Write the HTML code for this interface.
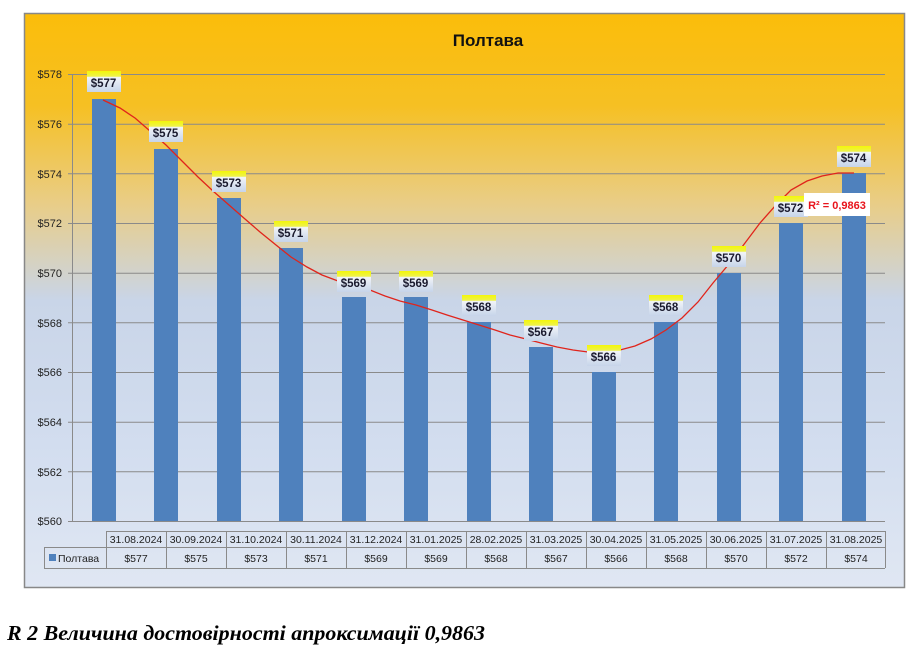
<!DOCTYPE html>
<html><head><meta charset="utf-8"><style>
body{margin:0;background:#fff;width:923px;height:655px;overflow:hidden}
text{font-family:"Liberation Sans","DejaVu Sans",sans-serif}
</style></head><body>
<svg width="923" height="655" xmlns="http://www.w3.org/2000/svg">
<defs>
<linearGradient id="bg" x1="0" y1="0" x2="0" y2="1">
<stop offset="0" stop-color="#fbbd0a"/>
<stop offset="0.16" stop-color="#f6c023"/>
<stop offset="0.33" stop-color="#e9cd86"/>
<stop offset="0.5" stop-color="#c9d5e8"/>
<stop offset="0.75" stop-color="#d2ddef"/>
<stop offset="1" stop-color="#e0e7f3"/>
</linearGradient>
<linearGradient id="lb" x1="0" y1="0" x2="0" y2="1">
<stop offset="0" stop-color="#f4f70a"/>
<stop offset="0.25" stop-color="#eef24a"/>
<stop offset="0.3" stop-color="#f1f4f8"/>
<stop offset="1" stop-color="#c6d4ea"/>
</linearGradient>
</defs>
<rect x="24.5" y="13.5" width="880" height="574" fill="url(#bg)" stroke="#888" stroke-width="1.5"/>
<text x="488" y="46" font-size="17" font-weight="bold" text-anchor="middle" fill="#111">Полтава</text>
<g stroke="#8a8a8a" stroke-width="1">
<line x1="68" y1="74.5" x2="885" y2="74.5"/>
<line x1="68" y1="124.2" x2="885" y2="124.2"/>
<line x1="68" y1="173.8" x2="885" y2="173.8"/>
<line x1="68" y1="223.5" x2="885" y2="223.5"/>
<line x1="68" y1="273.2" x2="885" y2="273.2"/>
<line x1="68" y1="322.8" x2="885" y2="322.8"/>
<line x1="68" y1="372.5" x2="885" y2="372.5"/>
<line x1="68" y1="422.2" x2="885" y2="422.2"/>
<line x1="68" y1="471.8" x2="885" y2="471.8"/>
<line x1="68" y1="521.5" x2="885" y2="521.5"/>
<line x1="72.5" y1="74" x2="72.5" y2="521"/>
</g>
<g font-size="11" fill="#222" text-anchor="end">
<text x="62" y="78">$578</text><text x="62" y="128">$576</text><text x="62" y="178">$574</text>
<text x="62" y="227">$572</text><text x="62" y="277">$570</text><text x="62" y="327">$568</text>
<text x="62" y="376">$566</text><text x="62" y="426">$564</text><text x="62" y="476">$562</text>
<text x="62" y="525">$560</text>
</g>
<g fill="#4f81bd">
<rect x="92" y="99" width="24" height="422"/>
<rect x="154" y="149" width="24" height="372"/>
<rect x="217" y="198" width="24" height="323"/>
<rect x="279" y="248" width="24" height="273"/>
<rect x="342" y="297" width="24" height="224"/>
<rect x="404" y="297" width="24" height="224"/>
<rect x="467" y="322" width="24" height="199"/>
<rect x="529" y="347" width="24" height="174"/>
<rect x="592" y="372" width="24" height="149"/>
<rect x="654" y="322" width="24" height="199"/>
<rect x="717" y="273" width="24" height="248"/>
<rect x="779" y="223" width="24" height="298"/>
<rect x="842" y="173" width="24" height="348"/>
</g>
<polyline fill="none" stroke="#e0241b" stroke-width="1.3" points="103,100 120,108 135,118 150,131 166,145 182,161 198,177 213,191 229,205 245,219 260,232 276,245 291,257 307,267 322,275 338,281 354,285 370,290 385,296 400,301 416,305 432,310 447,315 463,320 479,325 495,330 510,335 526,339 541,343 557,347 573,350 588,352 604,352 620,350 635,346 651,339 666,330 682,318 698,302 713,283 729,264 745,243 760,223 776,205 791,190 807,181 822,176 838,173 854,173"/>
<g font-size="11.5" font-weight="bold" fill="#1a1a2e" text-anchor="middle">
<g><rect x="87" y="71" width="34" height="21" fill="url(#lb)"/><text x="103.5" y="87">$577</text></g>
<g><rect x="149" y="121" width="34" height="21" fill="url(#lb)"/><text x="165.5" y="137">$575</text></g>
<g><rect x="212" y="171" width="34" height="21" fill="url(#lb)"/><text x="228.5" y="187">$573</text></g>
<g><rect x="274" y="221" width="34" height="21" fill="url(#lb)"/><text x="290.5" y="237">$571</text></g>
<g><rect x="337" y="271" width="34" height="21" fill="url(#lb)"/><text x="353.5" y="287">$569</text></g>
<g><rect x="399" y="271" width="34" height="21" fill="url(#lb)"/><text x="415.5" y="287">$569</text></g>
<g><rect x="462" y="295" width="34" height="21" fill="url(#lb)"/><text x="478.5" y="311">$568</text></g>
<g><rect x="524" y="320" width="34" height="21" fill="url(#lb)"/><text x="540.5" y="336">$567</text></g>
<g><rect x="587" y="345" width="34" height="21" fill="url(#lb)"/><text x="603.5" y="361">$566</text></g>
<g><rect x="649" y="295" width="34" height="21" fill="url(#lb)"/><text x="665.5" y="311">$568</text></g>
<g><rect x="712" y="246" width="34" height="21" fill="url(#lb)"/><text x="728.5" y="262">$570</text></g>
<g><rect x="774" y="196" width="34" height="21" fill="url(#lb)"/><text x="790.5" y="212">$572</text></g>
<g><rect x="837" y="146" width="34" height="21" fill="url(#lb)"/><text x="853.5" y="162">$574</text></g>
</g>
<rect x="804" y="193" width="66" height="23" fill="#fff"/>
<text x="837" y="209" font-size="11" font-weight="bold" fill="#e8141c" text-anchor="middle">R² = 0,9863</text>
<g stroke="#8a8a8a" stroke-width="1" fill="none">
<line x1="106" y1="531.5" x2="885" y2="531.5"/>
<line x1="44" y1="547.5" x2="885" y2="547.5"/>
<line x1="44" y1="568.5" x2="885" y2="568.5"/>
<line x1="44.5" y1="547" x2="44.5" y2="568"/>
<line x1="106.5" y1="531" x2="106.5" y2="568"/>
<line x1="166.5" y1="531" x2="166.5" y2="568"/><line x1="226.5" y1="531" x2="226.5" y2="568"/>
<line x1="286.5" y1="531" x2="286.5" y2="568"/><line x1="346.5" y1="531" x2="346.5" y2="568"/>
<line x1="406.5" y1="531" x2="406.5" y2="568"/><line x1="466.5" y1="531" x2="466.5" y2="568"/>
<line x1="526.5" y1="531" x2="526.5" y2="568"/><line x1="586.5" y1="531" x2="586.5" y2="568"/>
<line x1="646.5" y1="531" x2="646.5" y2="568"/><line x1="706.5" y1="531" x2="706.5" y2="568"/>
<line x1="766.5" y1="531" x2="766.5" y2="568"/><line x1="826.5" y1="531" x2="826.5" y2="568"/>
<line x1="885.5" y1="531" x2="885.5" y2="568"/>
</g>
<rect x="49" y="554" width="7" height="7" fill="#4f81bd"/>
<text x="58" y="562" font-size="10.5" fill="#222">Полтава</text>
<g font-size="10.5" fill="#222" text-anchor="middle">
<text x="136" y="543">31.08.2024</text><text x="196" y="543">30.09.2024</text><text x="256" y="543">31.10.2024</text>
<text x="316" y="543">30.11.2024</text><text x="376" y="543">31.12.2024</text><text x="436" y="543">31.01.2025</text>
<text x="496" y="543">28.02.2025</text><text x="556" y="543">31.03.2025</text><text x="616" y="543">30.04.2025</text>
<text x="676" y="543">31.05.2025</text><text x="736" y="543">30.06.2025</text><text x="796" y="543">31.07.2025</text>
<text x="856" y="543">31.08.2025</text>
<text x="136" y="562">$577</text><text x="196" y="562">$575</text><text x="256" y="562">$573</text>
<text x="316" y="562">$571</text><text x="376" y="562">$569</text><text x="436" y="562">$569</text>
<text x="496" y="562">$568</text><text x="556" y="562">$567</text><text x="616" y="562">$566</text>
<text x="676" y="562">$568</text><text x="736" y="562">$570</text><text x="796" y="562">$572</text>
<text x="856" y="562">$574</text>
</g>
<text x="7" y="640" font-size="21" font-weight="bold" font-style="italic" fill="#000" textLength="478" lengthAdjust="spacingAndGlyphs" style="font-family:'Liberation Serif',serif">R 2 Величина достовірності апроксимації 0,9863</text>
</svg>
</body></html>
